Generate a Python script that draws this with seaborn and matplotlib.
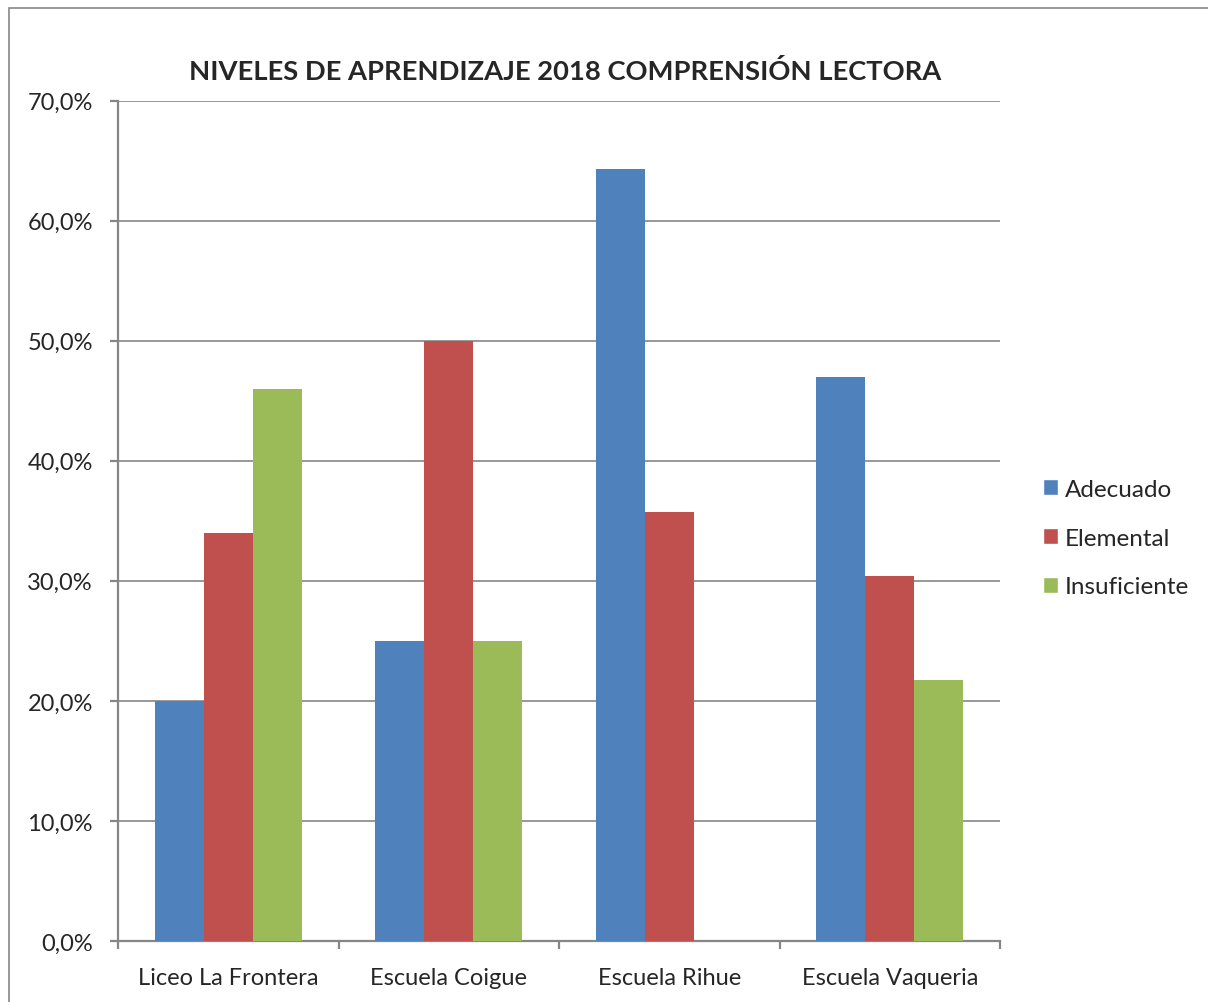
import pandas as pd
import matplotlib
matplotlib.use('Agg')
import matplotlib.pyplot as plt
import seaborn as sns
from matplotlib.patches import Rectangle, Patch
from matplotlib.ticker import FuncFormatter, FixedLocator

# data (percent)
schools = ['Liceo La Frontera', 'Escuela Coigue', 'Escuela Rihue', 'Escuela Vaqueria']
levels = ['Adecuado', 'Elemental', 'Insuficiente']
adecuado = [20.0, 25.0, 64.3, 47.0]
elemental = [34.0, 50.0, 35.7, 30.4]
insuficiente = [46.0, 25.0, 0.0, 21.7]
colors = ['#4F81BD', '#C0504D', '#9BBB59']

df = pd.DataFrame({'school': schools, 'Adecuado': adecuado,
                   'Elemental': elemental, 'Insuficiente': insuficiente})
df = df.melt(id_vars='school', var_name='nivel', value_name='pct')

sns.set_style('white')
plt.rcParams['font.family'] = ['Lato', 'DejaVu Sans']
grid_col = '#868686'

fig = plt.figure(figsize=(12.08, 10.03), dpi=100)
ax = fig.add_axes([118 / 1208, 61 / 1003, 882 / 1208, 840.5 / 1003])

sns.barplot(data=df, x='school', y='pct', hue='nivel', order=schools,
            hue_order=levels, palette=colors, width=2 / 3, gap=0,
            saturation=1, legend=False, ax=ax, zorder=3, linewidth=0)

ax.set_ylim(0, 70)
ax.set_xlim(-0.5, 3.5)
ax.set_yticks(range(0, 71, 10))
ax.yaxis.set_major_formatter(FuncFormatter(lambda v, p: f'{v:.1f}%'.replace('.', ',')))
ax.yaxis.grid(True, color=grid_col, lw=1.2, zorder=0)
ax.set_axisbelow(True)
ax.set_xlabel('')
ax.set_ylabel('')

for s in ['top', 'right']:
    ax.spines[s].set_visible(False)
for s in ['left', 'bottom']:
    ax.spines[s].set_color(grid_col)
    ax.spines[s].set_linewidth(1.6)

ax.tick_params(axis='y', which='major', length=6, width=1.6, color=grid_col,
               labelsize=17, pad=12, left=True)
ax.tick_params(axis='x', which='major', length=0, labelsize=17, pad=19)
ax.xaxis.set_minor_locator(FixedLocator([-0.5, 0.5, 1.5, 2.5, 3.5]))
ax.tick_params(axis='x', which='minor', length=6, width=1.6, color=grid_col,
               bottom=True)

fig.text(565 / 1208, 1 - 71 / 1003, 'NIVELES DE APRENDIZAJE 2018 COMPRENSIÓN LECTORA',
         ha='center', va='center', fontsize=19.7, fontweight='bold')

handles = [Patch(facecolor=c, label=l) for c, l in zip(colors, levels)]
fig.legend(handles=handles, loc='center left', bbox_to_anchor=(1043 / 1208, 1 - 539 / 1003),
           frameon=False, fontsize=17.5, handlelength=0.6, handleheight=0.6,
           handletextpad=0.3, labelspacing=1.15, borderpad=0, borderaxespad=0)

fig.patches.append(Rectangle((9 / 1208, -0.1), 1.5, 1.1 - 9 / 1003,
                             transform=fig.transFigure, fill=False,
                             edgecolor=grid_col, lw=1.2))

plt.savefig('out.png', dpi=100)
